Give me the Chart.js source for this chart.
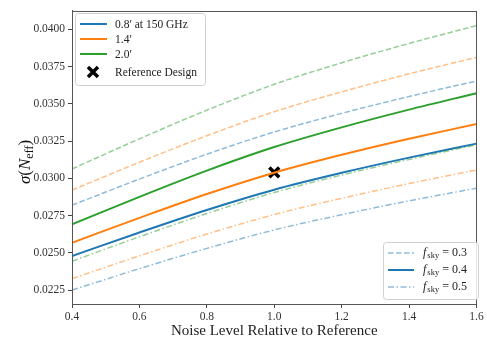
<!DOCTYPE html>
<html>
<head>
<meta charset="utf-8">
<script src="https://cdn.jsdelivr.net/npm/chart.js@4.4.0/dist/chart.umd.min.js"></script>
<style>
  html, body { margin: 0; padding: 0; background: #fff; }
  #wrap { width: 487px; height: 340px; position: relative; }
</style>
</head>
<body>
<div id="wrap"><canvas id="c" width="487" height="340"></canvas></div>
<script>
const noiseLevels = [0.4, 0.6, 0.8, 1.0, 1.2, 1.4, 1.6];

// fsky = 0.3 (dashed)
const blue03   = [0.02820, 0.02995, 0.03162, 0.03311, 0.03436, 0.03549, 0.03653];
const orange03 = [0.02921, 0.03108, 0.03286, 0.03447, 0.03580, 0.03701, 0.03812];
const green03  = [0.03063, 0.03265, 0.03457, 0.03631, 0.03775, 0.03905, 0.04025];
// fsky = 0.4 (solid)
const blue04   = [0.02479, 0.02637, 0.02788, 0.02924, 0.03037, 0.03139, 0.03233];
const orange04 = [0.02568, 0.02735, 0.02895, 0.03038, 0.03158, 0.03265, 0.03365];
const green04  = [0.02691, 0.02876, 0.03052, 0.03210, 0.03342, 0.03461, 0.03571];
// fsky = 0.5 (dash-dot)
const blue05   = [0.02250, 0.02394, 0.02530, 0.02654, 0.02756, 0.02849, 0.02934];
const orange05 = [0.02327, 0.02480, 0.02626, 0.02757, 0.02866, 0.02965, 0.03056];
const green05  = [0.02444, 0.02608, 0.02764, 0.02905, 0.03022, 0.03127, 0.03225];

const referenceDesign = { x: 1.0, y: 0.0304 };

const beamLabels = ["0.8\u2032 at 150 GHz", "1.4\u2032", "2.0\u2032"];
const fskyLabels = ["0.3", "0.4", "0.5"];
const xTitle = "Noise Level Relative to Reference";

const C_BLUE = "31,119,180", C_ORANGE = "255,127,14", C_GREEN = "44,160,44";
const DASH = [5.5, 2.5];
const DASHDOT = [6, 2.5, 1.5, 2.5];

function pts(arr) { return arr.map((v, i) => ({ x: noiseLevels[i], y: v })); }
function ds(arr, rgb, alpha, dash, width) {
  return {
    type: 'line', data: pts(arr),
    borderColor: `rgba(${rgb},${alpha})`, borderWidth: width,
    borderDash: dash, pointRadius: 0, fill: false,
    cubicInterpolationMode: 'monotone'
  };
}

const datasets = [
  ds(blue03, C_BLUE, 0.5, DASH, 1.5),
  ds(orange03, C_ORANGE, 0.5, DASH, 1.5),
  ds(green03, C_GREEN, 0.5, DASH, 1.5),
  ds(blue05, C_BLUE, 0.5, DASHDOT, 1.5),
  ds(orange05, C_ORANGE, 0.5, DASHDOT, 1.5),
  ds(green05, C_GREEN, 0.5, DASHDOT, 1.5),
  ds(blue04, C_BLUE, 1, [], 2),
  ds(orange04, C_ORANGE, 1, [], 2),
  ds(green04, C_GREEN, 1, [], 2),
  {
    type: 'scatter', data: [referenceDesign],
    pointStyle: 'crossRot', pointRadius: 7, pointBorderWidth: 3.5,
    borderColor: '#000', backgroundColor: '#000', pointHoverRadius: 7
  }
];

const SERIF = "'Liberation Serif', 'DejaVu Serif', serif";

const decor = {
  id: 'decor',
  afterDraw(chart) {
    const ctx = chart.ctx, a = chart.chartArea;
    ctx.save();
    // frame
    ctx.strokeStyle = '#555'; ctx.lineWidth = 1;
    ctx.strokeRect(Math.round(a.left) + 0.5, Math.round(a.top) + 0.5,
      Math.round(a.right - a.left) - 1, Math.round(a.bottom - a.top) - 1);

    // y title sigma(N_eff)
    ctx.save();
    ctx.translate(24, 162);
    ctx.rotate(-Math.PI / 2);
    ctx.fillStyle = '#111';
    ctx.textBaseline = 'alphabetic';
    const parts = [
      { t: '\u03C3', f: `italic 17px ${SERIF}`, dy: 0 },
      { t: '(', f: `17px ${SERIF}`, dy: 0 },
      { t: 'N', f: `italic 17px ${SERIF}`, dy: 0 },
      { t: 'eff', f: `12px ${SERIF}`, dy: 3 },
      { t: ')', f: `17px ${SERIF}`, dy: 0 }
    ];
    let total = 0;
    parts.forEach(p => { ctx.font = p.f; total += ctx.measureText(p.t).width; });
    let xx = -total / 2;
    parts.forEach(p => { ctx.font = p.f; ctx.fillText(p.t, xx, 6 + p.dy); xx += ctx.measureText(p.t).width; });
    ctx.restore();

    // Legend 1 (top-left)
    function box(x, y, w, h) {
      ctx.fillStyle = 'rgba(255,255,255,0.85)';
      ctx.strokeStyle = '#d0d0d0'; ctx.lineWidth = 1;
      ctx.beginPath();
      if (ctx.roundRect) ctx.roundRect(x + 0.5, y + 0.5, w, h, 3); else ctx.rect(x + 0.5, y + 0.5, w, h);
      ctx.fill(); ctx.stroke();
    }
    box(75, 13, 130, 72);
    const l1 = [[C_BLUE, 24], [C_ORANGE, 39], [C_GREEN, 54]];
    ctx.textBaseline = 'middle';
    l1.forEach((it, i) => {
      ctx.strokeStyle = `rgb(${it[0]})`; ctx.lineWidth = 2; ctx.setLineDash([]);
      ctx.beginPath(); ctx.moveTo(80, it[1]); ctx.lineTo(107, it[1]); ctx.stroke();
      ctx.fillStyle = '#222'; ctx.font = `11.5px ${SERIF}`;
      ctx.fillText(beamLabels[i], 115, it[1] + 1);
    });
    // X marker
    ctx.strokeStyle = '#000'; ctx.lineWidth = 3.5;
    ctx.beginPath();
    ctx.moveTo(88, 67); ctx.lineTo(98, 77); ctx.moveTo(98, 67); ctx.lineTo(88, 77);
    ctx.stroke();
    ctx.fillStyle = '#222'; ctx.font = `11.5px ${SERIF}`;
    ctx.fillText('Reference Design', 115, 73);

    // Legend 2 (bottom-right)
    box(383, 242, 95, 57);
    const l2 = [[DASH, 0.5, 1.5, 253], [[], 1, 2, 270], [DASHDOT, 0.5, 1.5, 287]];
    l2.forEach((it, i) => {
      ctx.strokeStyle = `rgba(${C_BLUE},${it[1]})`; ctx.lineWidth = it[2]; ctx.setLineDash(it[0]);
      ctx.beginPath(); ctx.moveTo(388, it[3]); ctx.lineTo(414, it[3]); ctx.stroke();
      ctx.setLineDash([]);
      ctx.fillStyle = '#222';
      let x = 423;
      ctx.font = `italic 12px ${SERIF}`; ctx.fillText('f', x, it[3]); x += ctx.measureText('f').width + 1;
      ctx.font = `8.5px ${SERIF}`; ctx.fillText('sky', x, it[3] + 3); x += ctx.measureText('sky').width + 3;
      ctx.font = `12px ${SERIF}`; ctx.fillText('= ' + fskyLabels[i], x, it[3]);
    });
    ctx.restore();
  }
};

new Chart(document.getElementById('c'), {
  type: 'line',
  data: { datasets },
  options: {
    responsive: false, animation: false,
    layout: { padding: { left: 0, right: 6.5, top: 7, bottom: 0 } },
    plugins: { legend: { display: false }, tooltip: { enabled: false } },
    scales: {
      x: {
        type: 'linear', min: 0.4, max: 1.6,
        ticks: { stepSize: 0.2, includeBounds: false, color: '#333',
          font: { family: SERIF, size: 11.5 }, padding: 2,
          callback: v => v.toFixed(1), maxRotation: 0 },
        grid: { drawOnChartArea: false, drawTicks: true, tickLength: 4, color: '#444' },
        border: { display: true, color: '#555' },
        title: { display: true, text: xTitle, color: '#222',
          font: { family: SERIF, size: 15 }, padding: { top: 0, bottom: 0 } },
        afterFit: s => { s.height = 36; }
      },
      y: {
        type: 'linear', min: 0.02157, max: 0.04126,
        ticks: { stepSize: 0.0025, includeBounds: false, color: '#333',
          font: { family: SERIF, size: 11.5 }, padding: 3,
          callback: v => v.toFixed(4) },
        grid: { drawOnChartArea: false, drawTicks: true, tickLength: 4, color: '#444' },
        border: { display: true, color: '#555' },
        afterFit: s => { s.width = 72; }
      }
    }
  },
  plugins: [decor]
});
</script>
</body>
</html>
